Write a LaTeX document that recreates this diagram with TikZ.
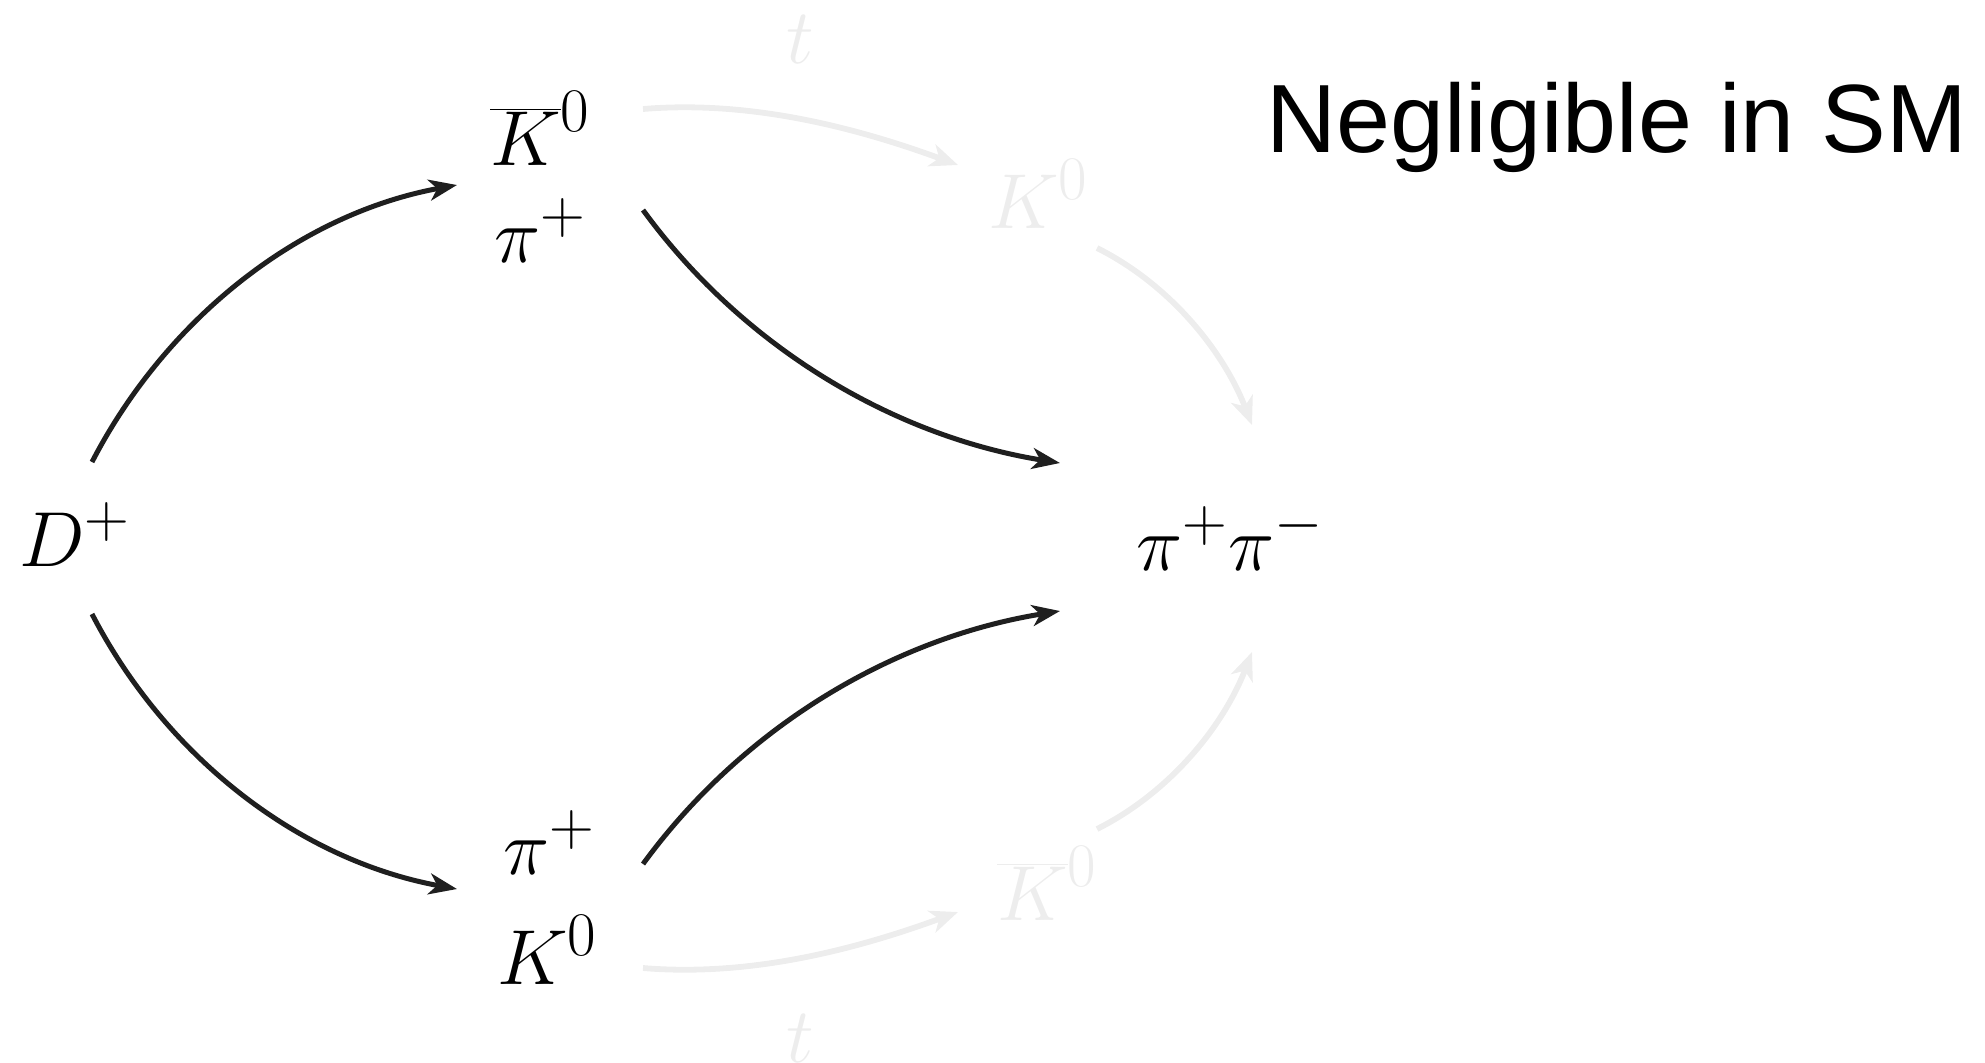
\documentclass[tikz,border=0pt]{standalone}
\usepackage{fix-cm}
\usepackage{fontspec}
\newfontfamily\negfont{Liberation Sans}
\DeclareMathSizes{39}{39}{31}{25}
\usetikzlibrary{arrows.meta,calc}
\definecolor{faint}{gray}{0.93}
\tikzset{
  lbl/.style={inner sep=0pt, anchor=base west, font=\fontsize{39}{47}\selectfont},
  faintlbl/.style={lbl, text=faint},
  arr/.style={line width=2.5pt, draw=black!88, -{Stealth[length=14pt,width=10.5pt,inset=4pt]}},
  farr/.style={line width=2.9pt, draw=faint, -{Stealth[length=14pt,width=11.5pt,inset=4pt]}}
}
\begin{document}
\begin{tikzpicture}[x=0.5pt,y=-0.5pt]
\useasboundingbox (0,0) rectangle (1985,1062);
% nodes
\node[lbl] (Dp)  at (19,566)  {$D^+$};
\node[lbl] (Kb1) at (490,165) {$\overline{K}^0$};
\node[lbl] (Pi1) at (494,262) {$\pi^+$};
\node[lbl] (Pi2) at (503,874) {$\pi^+$};
\node[lbl] (K2)  at (497,984) {$K^0$};
\node[lbl] (PP)  at (1136,570) {$\pi^+\pi^-$};
\node[faintlbl] (Kg1) at (988,228) {$K^0$};
\node[faintlbl] (Kbg2) at (997,920) {$\overline{K}^0$};
\node[faintlbl, anchor=base] (t1) at (800,63) {$t$};
\node[faintlbl, anchor=base] (t2) at (800,1062) {$t$};
\node[inner sep=0pt, anchor=base west, font=\negfont\fontsize{48.5}{58}\selectfont] (neg) at (1266,152) {Negligible in SM};
% black arrows
\draw[arr] ($(Dp.base west)+(73,-104)$) .. controls +(74,-143) and +(-158,29) .. ($(Kb1.base west)+(-33,20)$);
\draw[arr] ($(Dp.base west)+(73,48)$) .. controls +(74,143) and +(-158,-29) .. ($(Pi2.base west)+(-46,15)$);
\draw[arr] ($(Pi1.base west)+(149,-52)$) .. controls +(100,137) and +(-167,-27) .. ($(PP.base west)+(-76,-107)$);
\draw[arr] ($(Pi2.base west)+(140,-10)$) .. controls +(100,-137) and +(-167,27) .. ($(PP.base west)+(-76,41)$);
% faint arrows
\draw[farr] ($(Kb1.base west)+(153,-56)$) .. controls +(108,-9) and +(-101,-37) .. ($(Kg1.base west)+(-30,-63)$);
\draw[farr] ($(Kg1.base west)+(109,20)$) .. controls +(72,36) and +(-29,-75) .. ($(PP.base west)+(116,-145)$);
\draw[farr] ($(K2.base west)+(146,-16)$) .. controls +(108,9) and +(-101,37) .. ($(Kbg2.base west)+(-39,-8)$);
\draw[farr] ($(Kbg2.base west)+(100,-91)$) .. controls +(72,-36) and +(-29,75) .. ($(PP.base west)+(116,82)$);
\end{tikzpicture}
\end{document}
